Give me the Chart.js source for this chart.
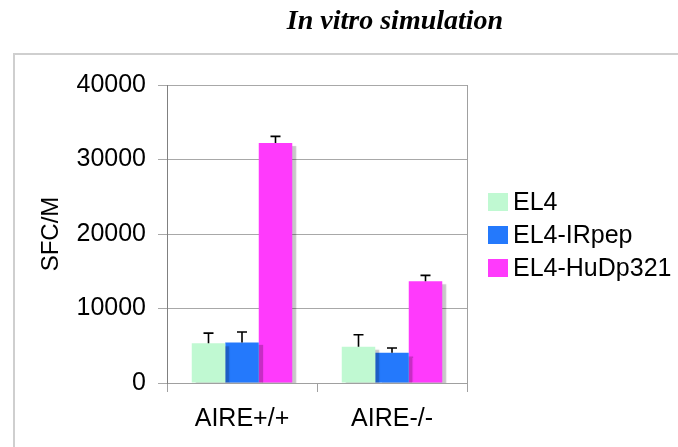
<!DOCTYPE html>
<html>
<head>
<meta charset="utf-8">
<title>In vitro simulation</title>
<script src="https://cdn.jsdelivr.net/npm/chart.js@4.4.1/dist/chart.umd.min.js"></script>
<style>
  html, body { margin: 0; padding: 0; background: #fff; }
  #myChart { display: block; }
</style>
</head>
<body>
<canvas id="myChart" width="678" height="447"></canvas>
<script>
const groups = ["AIRE+/+", "AIRE-/-"];
const seriesNames = ["EL4", "EL4-IRpep", "EL4-HuDp321"];

const el4 = [5350, 4870];
const el4Err = [1350, 1600];
const irpep = [5450, 4050];
const irpepErr = [1400, 650];
const hudp = [32200, 13650];
const hudpErr = [900, 800];

const yTicks = [0, 10000, 20000, 30000, 40000];

const colors = ["#c0f9d2", "#2479fc", "#ff3afc"];

const ctx = document.getElementById("myChart");

// grey page frame behind everything, heading on top
const framePlugin = {
  id: "frame",
  beforeDraw(chart) {
    const c = chart.ctx;
    c.save();
    c.fillStyle = "#fff";
    c.fillRect(0, 0, chart.width, chart.height);
    c.strokeStyle = "#cfcfcf";
    c.lineWidth = 2;
    c.strokeRect(14, 54, 720, 500);
    c.restore();
  },
  afterDraw(chart) {
    const c = chart.ctx;
    c.save();
    c.font = "italic bold 28px 'Liberation Serif', serif";
    c.fillStyle = "#000";
    c.textAlign = "center";
    c.textBaseline = "alphabetic";
    c.fillText("In vitro simulation", 395, 29);
    c.restore();
  }
};

// right edge of the plot box
const boxPlugin = {
  id: "plotBox",
  beforeDatasetsDraw(chart) {
    const a = chart.chartArea;
    const c = chart.ctx;
    c.save();
    c.strokeStyle = "#a0a0a0";
    c.lineWidth = 1;
    c.beginPath();
    c.moveTo(a.right + 0.5, a.top);
    c.lineTo(a.right + 0.5, a.bottom);
    c.stroke();
    c.restore();
  }
};

// soft drop shadow under the bars
const shadowPlugin = {
  id: "barShadow",
  beforeDatasetDraw(chart) {
    const c = chart.ctx;
    c.save();
    c.shadowColor = "rgba(0,0,0,0.22)";
    c.shadowOffsetX = 4;
    c.shadowOffsetY = 3;
    c.shadowBlur = 1;
  },
  afterDatasetDraw(chart) {
    chart.ctx.restore();
  }
};

// upper error bars with a T cap
const errorPlugin = {
  id: "errorBars",
  afterDatasetsDraw(chart) {
    const c = chart.ctx;
    const y = chart.scales.y;
    c.save();
    c.strokeStyle = "#000";
    c.lineWidth = 1.6;
    chart.data.datasets.forEach((ds, i) => {
      const meta = chart.getDatasetMeta(i);
      meta.data.forEach((bar, j) => {
        const top = y.getPixelForValue(ds.data[j] + ds.errors[j]);
        c.beginPath();
        c.moveTo(bar.x, bar.y);
        c.lineTo(bar.x, top);
        c.moveTo(bar.x - 5, top);
        c.lineTo(bar.x + 5, top);
        c.stroke();
      });
    });
    c.restore();
  }
};

// legend to the right of the plot
const legendPlugin = {
  id: "sideLegend",
  afterDraw(chart) {
    const a = chart.chartArea;
    const c = chart.ctx;
    c.save();
    c.font = "25px 'Liberation Sans', Arial, sans-serif";
    c.textBaseline = "middle";
    chart.data.datasets.forEach((ds, i) => {
      const cy = 202 + i * 33;
      c.fillStyle = ds.backgroundColor;
      c.fillRect(a.right + 21, cy - 9, 20, 18);
      c.fillStyle = "#000";
      c.fillText(ds.label, a.right + 46, cy + 1);
    });
    c.restore();
  }
};

new Chart(ctx, {
  type: "bar",
  data: {
    labels: groups,
    datasets: [
      { label: seriesNames[0], data: el4, errors: el4Err, backgroundColor: colors[0] },
      { label: seriesNames[1], data: irpep, errors: irpepErr, backgroundColor: colors[1] },
      { label: seriesNames[2], data: hudp, errors: hudpErr, backgroundColor: colors[2] },
    ],
  },
  options: {
    responsive: false,
    animation: false,
    layout: { padding: { left: 33, right: 211, top: 85, bottom: 14 } },
    datasets: {
      bar: { categoryPercentage: 0.67, barPercentage: 1.0, borderWidth: 0 },
    },
    plugins: {
      legend: { display: false },
      tooltip: { enabled: false },
      title: { display: false },
    },
    scales: {
      x: {
        afterFit(scale) { scale.height = 50; },
        grid: { drawOnChartArea: false, tickLength: 9, color: "#a0a0a0", offset: true },
        border: { color: "#a0a0a0" },
        ticks: {
          color: "#000",
          padding: 12,
          font: { family: "'Liberation Sans', Arial, sans-serif", size: 25 },
        },
      },
      y: {
        min: 0,
        max: 40000,
        afterFit(scale) { scale.width = 134; },
        afterBuildTicks(scale) { scale.ticks = yTicks.map(v => ({ value: v })); },
        grid: { color: "#a8a8a8", tickLength: 9 },
        border: { color: "#808080" },
        ticks: {
          color: "#000",
          padding: 12,
          callback: v => String(v),
          font: { family: "'Liberation Sans', Arial, sans-serif", size: 25 },
        },
        title: {
          display: true,
          text: "SFC/M",
          color: "#000",
          padding: { top: 4, bottom: 4 },
          font: { family: "'Liberation Sans', Arial, sans-serif", size: 24 },
        },
      },
    },
  },
  plugins: [framePlugin, boxPlugin, shadowPlugin, errorPlugin, legendPlugin],
});
</script>
</body>
</html>
